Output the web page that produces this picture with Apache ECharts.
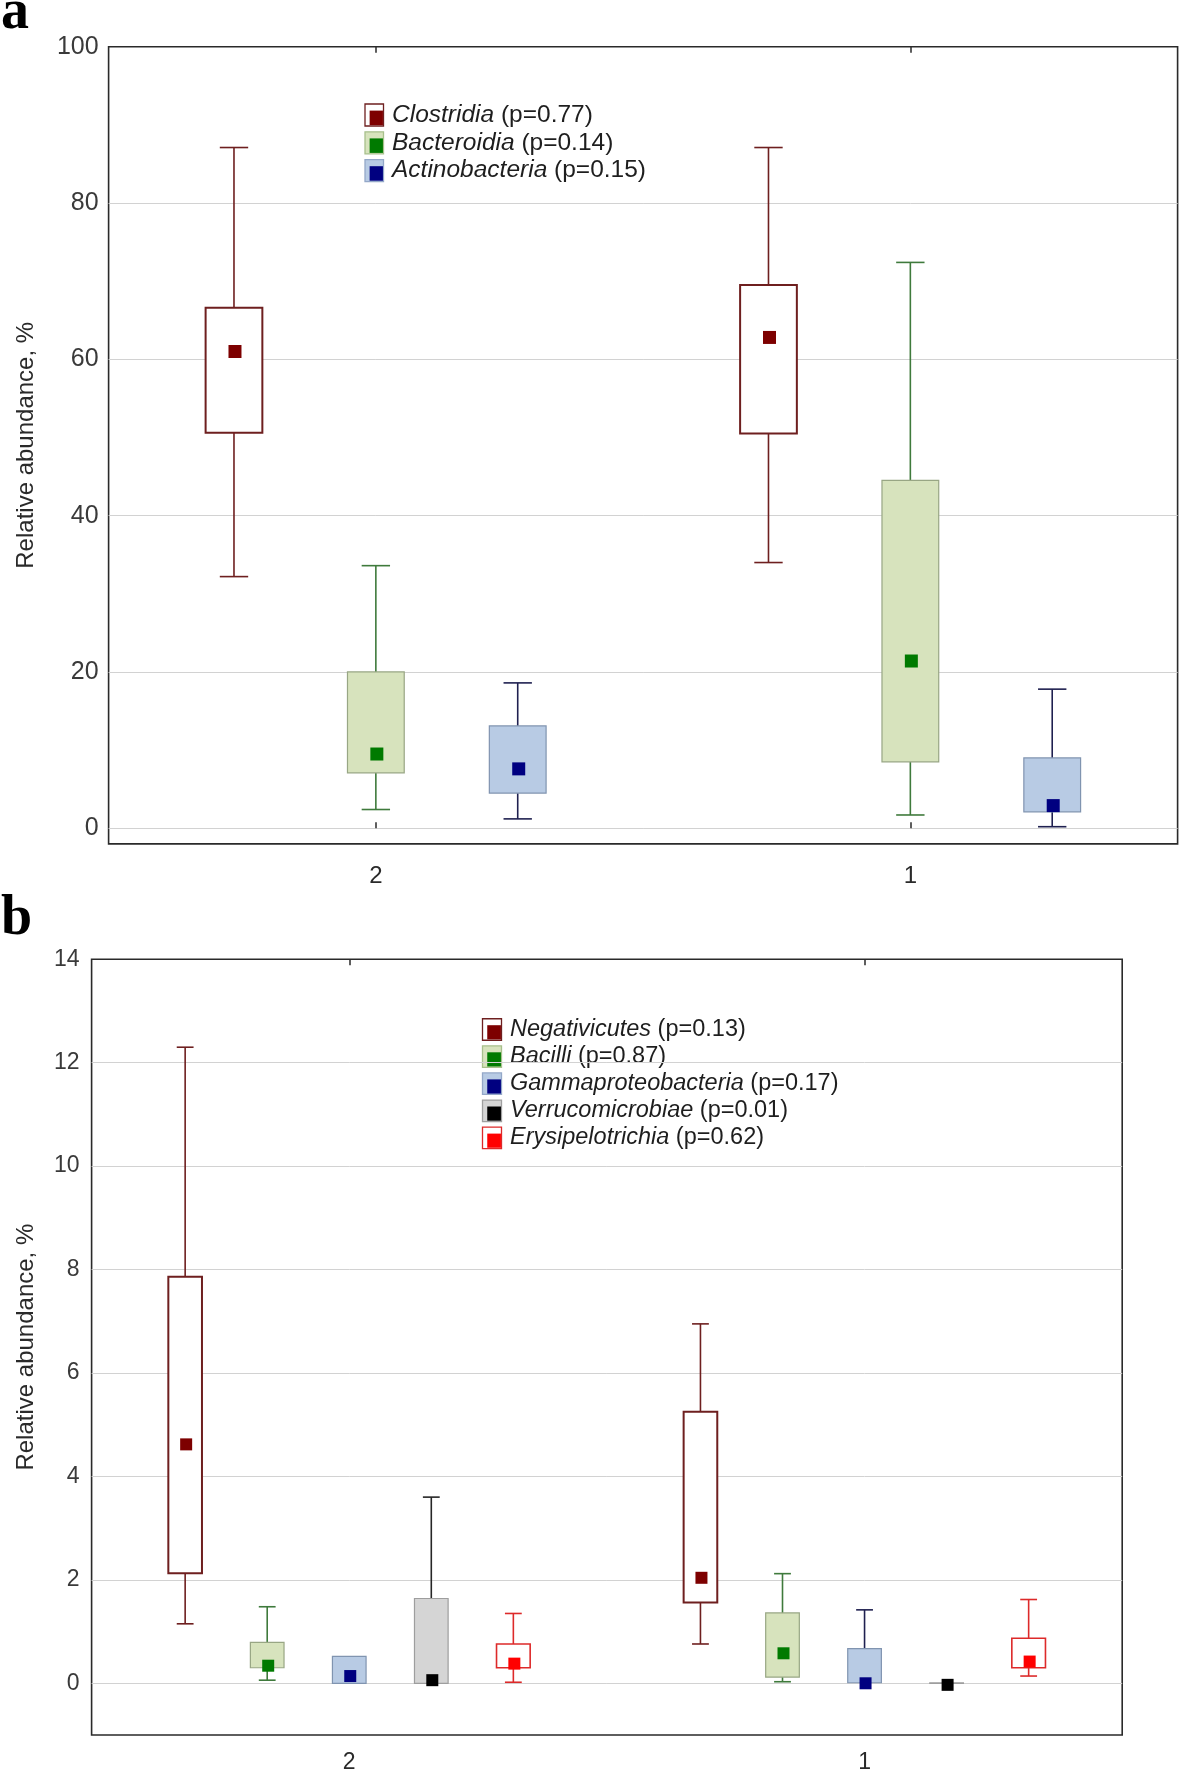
<!DOCTYPE html>
<html>
<head>
<meta charset="utf-8">
<script src="https://cdn.jsdelivr.net/npm/echarts@6/dist/echarts.min.js"></script>
<style>
html,body{margin:0;padding:0;background:#ffffff;}
#chart{width:1181px;height:1774px;}
</style>
</head>
<body>
<div id="chart"></div>
<script>
// ---------------- DATA ----------------
const categories = ['2', '1'];

// Panel a  — per category: [min, q1, mean, q3, max]
const namesA = ['Clostridia', 'Bacteroidia', 'Actinobacteria'];
const pValuesA = ['0.77', '0.14', '0.15'];
const clostridia     = [[32.2, 50.6, 61.0, 66.6, 87.1], [34.0, 50.5, 62.8, 69.5, 87.1]];
const bacteroidia    = [[2.4, 7.1, 9.5, 20.0, 33.6],   [1.7, 8.5, 21.4, 44.5, 72.4]];
const actinobacteria = [[1.2, 4.5, 7.6, 13.1, 18.6],   [0.2, 2.1, 2.9, 9.0, 17.8]];
const yTicksA = [0, 20, 40, 60, 80, 100];

// Panel b  — per category: [min, q1, mean, q3, max]
const namesB = ['Negativicutes', 'Bacilli', 'Gammaproteobacteria', 'Verrucomicrobiae', 'Erysipelotrichia'];
const pValuesB = ['0.13', '0.87', '0.17', '0.01', '0.62'];
const negativicutes       = [[1.15, 2.13, 4.62, 7.86, 12.3], [0.76, 1.56, 2.04, 5.25, 6.95]];
const bacilli             = [[0.06, 0.30, 0.34, 0.79, 1.48], [0.03, 0.12, 0.58, 1.36, 2.12]];
const gammaproteobacteria = [[0.0, 0.0, 0.14, 0.52, 0.52],   [0.01, 0.01, 0.0, 0.67, 1.42]];
const verrucomicrobiae    = [[0.0, 0.0, 0.06, 1.64, 3.6],    [0.0, 0.0, -0.03, 0.01, 0.01]];
const erysipelotrichia    = [[0.02, 0.30, 0.38, 0.76, 1.35], [0.14, 0.30, 0.42, 0.87, 1.62]];
const yTicksB = [0, 2, 4, 6, 8, 10, 12, 14];

// ---------------- STYLES ----------------
const FONT = '"Liberation Sans", Arial, sans-serif';
const sMaroon = {line: '#6e1f1f', lw: 1.6, fill: '#ffffff', border: '#6e1f1f', blw: 2, mark: '#7d0000', legBorder: '#6e1f1f'};
const sGreen  = {line: '#3f7a3c', lw: 1.6, fill: '#d7e3bd', border: '#98a684', blw: 1.2, mark: '#007a00', legBorder: '#a8c08c'};
const sBlue   = {line: '#1f2050', lw: 1.6, fill: '#b8cbe4', border: '#8094b0', blw: 1.2, mark: '#000080', legBorder: '#94a8c8'};
const sBlack  = {line: '#262626', lw: 1.6, fill: '#d5d5d5', border: '#9e9e9e', blw: 1.2, mark: '#000000', legBorder: '#a0a0a0'};
const sRed    = {line: '#dd2a2a', lw: 1.6, fill: '#ffffff', border: '#dd2a2a', blw: 1.6, mark: '#ff0000', legBorder: '#dd2a2a'};

const panelA = {grid: 0, series: [clostridia, bacteroidia, actinobacteria], styles: [sMaroon, sGreen, sBlue],
  boxFrac: 0.40, capFrac: 0.5, mark: 13};
const panelB = {grid: 1, series: [negativicutes, bacilli, gammaproteobacteria, verrucomicrobiae, erysipelotrichia],
  styles: [sMaroon, sGreen, sBlue, sBlack, sRed], boxFrac: 0.41, capFrac: 0.5, mark: 12};

function makeRender(idx, n, st, cfg) {
  return function (params, api) {
    const c = api.value(0);
    const band = api.size([1, 0])[0];
    const slot = (band * 0.8 - 2) / n;
    const cx = api.coord([c, 0])[0] + (idx - (n - 1) / 2) * slot;
    const bw = slot * cfg.boxFrac;
    const cw = bw * cfg.capFrac;
    const Y = k => api.coord([c, api.value(k)])[1];
    const yMin = Y(1), yQ1 = Y(2), yMean = Y(3), yQ3 = Y(4), yMax = Y(5);
    const ls = {stroke: st.line, lineWidth: st.lw};
    const ch = [];
    if (Math.abs(yMax - yQ3) > 0.5) {
      ch.push({type: 'line', shape: {x1: cx, y1: yMax, x2: cx, y2: yQ3}, style: ls});
      ch.push({type: 'line', shape: {x1: cx - cw / 2, y1: yMax, x2: cx + cw / 2, y2: yMax}, style: ls});
    }
    if (Math.abs(yMin - yQ1) > 0.5) {
      ch.push({type: 'line', shape: {x1: cx, y1: yQ1, x2: cx, y2: yMin}, style: ls});
      ch.push({type: 'line', shape: {x1: cx - cw / 2, y1: yMin, x2: cx + cw / 2, y2: yMin}, style: ls});
    }
    ch.push({type: 'rect', shape: {x: cx - bw / 2, y: yQ3, width: bw, height: Math.max(yQ1 - yQ3, 0.5)},
      style: {fill: st.fill, stroke: st.border, lineWidth: st.blw}});
    const m = cfg.mark;
    ch.push({type: 'rect', shape: {x: cx - m / 2 + 1, y: yMean - m / 2, width: m, height: m}, style: {fill: st.mark}});
    return {type: 'group', children: ch};
  };
}

function buildSeries(panel, names) {
  const n = panel.series.length;
  return panel.series.map((arr, i) => ({
    type: 'custom',
    name: names[i],
    xAxisIndex: panel.grid * 2,
    yAxisIndex: panel.grid,
    encode: {x: 0, y: [1, 2, 3, 4, 5]},
    data: categories.map((cat, ci) => [ci].concat(arr[ci])),
    renderItem: makeRender(i, n, panel.styles[i], panel),
    z: 5
  }));
}

function splitColors(min, max, step, labeled) {
  const out = [];
  for (let v = min; v <= max + 1e-9; v += step) {
    const vv = Math.round(v * 1000) / 1000;
    out.push(labeled.indexOf(vv) >= 0 && vv !== max && vv !== min ? '#d2d2d2' : 'rgba(0,0,0,0)');
  }
  return out;
}

function legendGraphics(names, pvals, styles, x0, yMid0, rowH, fontSize, iw, ih) {
  const out = [];
  names.forEach((nm, i) => {
    const st = styles[i];
    const ym = yMid0 + i * rowH;
    out.push({type: 'rect', shape: {x: x0, y: ym - ih / 2, width: iw, height: ih},
      style: {fill: st.fill, stroke: st.legBorder, lineWidth: 1.3}});
    out.push({type: 'rect', shape: {x: x0 + iw * 0.25, y: ym - ih / 2 + ih * 0.3, width: iw * 0.72, height: ih * 0.66},
      style: {fill: st.mark}});
    out.push({type: 'text', x: x0 + iw + 8.5, y: ym,
      style: {text: '{i|' + nm + '} (p=' + pvals[i] + ')',
        rich: {i: {fontStyle: 'italic', fontSize: fontSize, fontFamily: FONT, fill: '#1e1e1e'}},
        fontSize: fontSize, fontFamily: FONT, fill: '#1e1e1e', verticalAlign: 'middle', align: 'left'}});
  });
  return out;
}

function xAxes(gridIndex, margin, fs) {
  const tick = {show: true, inside: true, alignWithLabel: true, length: 6, lineStyle: {color: '#2a2a2a', width: 1.5}};
  return [
    {gridIndex: gridIndex, type: 'category', data: categories, position: 'bottom',
      axisLine: {show: false}, axisTick: tick, splitLine: {show: false},
      axisLabel: {fontSize: fs, color: '#2a2a2a', margin: margin, fontFamily: FONT}},
    {gridIndex: gridIndex, type: 'category', data: categories, position: 'top',
      axisLine: {show: false}, axisTick: tick, splitLine: {show: false}, axisLabel: {show: false}}
  ];
}

function yAxis(gridIndex, min, max, step, labeled, fs, margin, nameGap) {
  return {
    gridIndex: gridIndex, type: 'value', min: min, max: max, interval: step,
    axisLine: {show: false}, axisTick: {show: false},
    axisLabel: {fontSize: fs, color: '#3a3a3a', margin: margin, fontFamily: FONT,
      formatter: v => (labeled.indexOf(Math.round(v * 1000) / 1000) >= 0 ? String(Math.round(v)) : '')},
    splitLine: {show: true, lineStyle: {color: splitColors(min, max, step, labeled), width: 1}},
    name: 'Relative abundance, %', nameLocation: 'middle', nameGap: nameGap,
    nameTextStyle: {fontSize: 24, color: '#2a2a2a', fontFamily: FONT}
  };
}

const chart = echarts.init(document.getElementById('chart'), null, {renderer: 'canvas'});
const option = {
  backgroundColor: '#ffffff',
  animation: false,
  grid: [
    {left: 108.6, top: 46.7, width: 1069, height: 797.2, show: true, borderColor: '#2a2a2a', borderWidth: 1.6},
    {left: 91.6, top: 959.3, width: 1030.6, height: 778.2, show: true, borderColor: '#2a2a2a', borderWidth: 1.6}
  ],
  xAxis: xAxes(0, 20, 24).concat(xAxes(1, 16, 23)),
  yAxis: [
    yAxis(0, -2, 100, 2, yTicksA, 25, 10, 70),
    yAxis(1, -1, 14, 1, yTicksB, 23, 12, 53)
  ],
  series: buildSeries(panelA, namesA).concat(buildSeries(panelB, namesB)),
  graphic: [
    {type: 'text', x: 1, y: 14, style: {text: 'a', font: 'bold 56px "Liberation Serif", "Times New Roman", serif', fill: '#000', verticalAlign: 'middle'}},
    {type: 'text', x: 1, y: 920, style: {text: 'b', font: 'bold 56px "Liberation Serif", "Times New Roman", serif', fill: '#000', verticalAlign: 'middle'}}
  ].concat(legendGraphics(namesA, pValuesA, panelA.styles, 365, 115, 27.8, 24.5, 18.5, 22))
   .concat(legendGraphics(namesB, pValuesB, panelB.styles, 482.5, 1029.5, 27.1, 23.5, 19, 21.5))
};
chart.setOption(option);
</script>
</body>
</html>
